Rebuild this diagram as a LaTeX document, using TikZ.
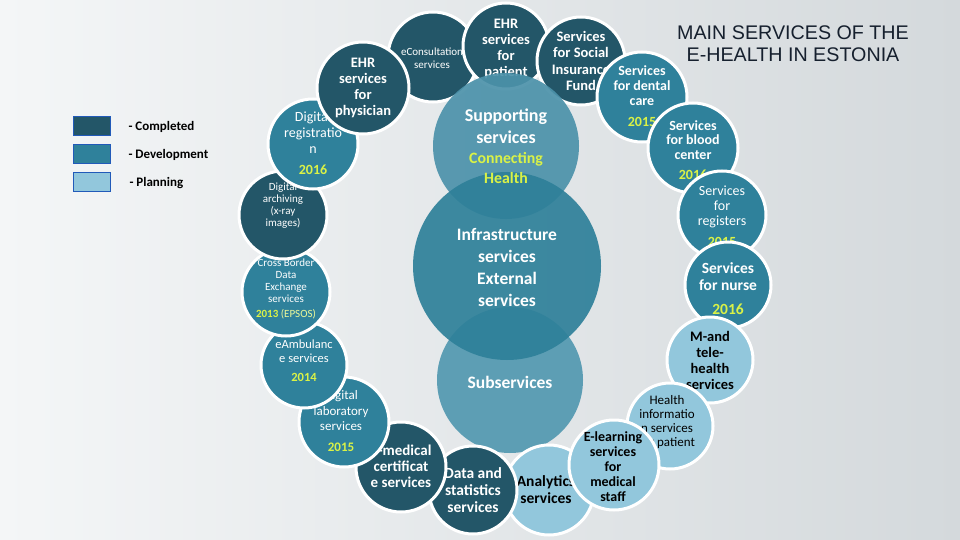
\documentclass[tikz,border=0pt]{standalone}
\usepackage{fontspec}
\setmainfont{Carlito}
\newfontfamily\titlefont{Liberation Sans}
\definecolor{cdone}{RGB}{35,86,104}
\definecolor{cdev}{RGB}{47,129,155}
\definecolor{cplan}{RGB}{146,199,220}
\definecolor{csupp}{RGB}{76,146,170}
\definecolor{cinfra}{RGB}{46,128,153}
\definecolor{csub}{RGB}{82,152,176}
\definecolor{cyear}{RGB}{218,242,70}
\definecolor{ctitle}{RGB}{22,32,46}
\newcommand{\yr}[1]{\textcolor{cyear}{\bfseries #1}}
\newcommand{\fs}[2]{\fontsize{#1}{#2}\selectfont}
\tikzset{ehealth/.style={x=1pt,y=-1pt},
  bub/.style={circle,draw=white,line width=3pt,inner sep=0pt},
  done/.style={bub,fill=cdone},
  dev/.style={bub,fill=cdev},
  plan/.style={bub,fill=cplan},
  hub/.style={circle,inner sep=0pt,fill opacity=0.92},
  wtxt/.style={text=white,align=center},
  ktxt/.style={text=black,align=center},
  legbox/.style={draw=cdev!70!blue,thin,minimum width=37pt,minimum height=19pt,inner sep=0pt},
  legtxt/.style={anchor=west,font=\fs{13}{15}\bfseries}}

\begin{document}
\begin{tikzpicture}[ehealth]
    \useasboundingbox (0,0) rectangle (960,540);
    \fill[left color={rgb,255:red,244;green,246;blue,247},right color={rgb,255:red,212;green,217;blue,220}]
      (0,0) rectangle (960,540);
    % legend
    \node[legbox,fill=cdone] (lgdone) at (91.5,125.5) {};
    \node[legbox,fill=cdev]  (lgdev)  at (91.5,154) {};
    \node[legbox,fill=cplan] (lgplan) at (91.5,182) {};
    \node[legtxt] (lgdonet) at (125,127) {- Completed};
    \node[legtxt] (lgdevt)  at (125,155) {- Development};
    \node[legtxt] (lgplant) at (126,183) {- Planning};
    % centre, lower hub
    \node[hub,fill=csub,minimum size=146pt] (subserv) at (510,380) {};
    \node[wtxt,font=\fs{17.5}{20}\bfseries] (subservt) at (510,382) {Subservices};
    % ring, lower left half
    \node[plan,minimum size=90pt] (analytics) at (549,490) {};
    \node[ktxt,font=\fs{15.5}{17}\bfseries] (analyticst) at (546,490) {Analytics\\services};
    \node[done,minimum size=88pt] (datastat) at (473,490) {};
    \node[wtxt,font=\fs{15.5}{17}\bfseries] (datastatt) at (473,490) {Data and\\statistics\\services};
    \node[done,minimum size=90pt] (medcert) at (401,467) {};
    \node[wtxt,font=\fs{15}{16}\bfseries] (medcertt) at (401,466) {e-medical\\certificat\\e services};
    \node[dev,minimum size=90pt] (lab) at (344,422) {};
    \node[wtxt,font=\fs{13}{15.5}] (labt) at (341,421) {Digital\\laboratory\\services\\[5pt]\yr{2015}};
    \node[dev,minimum size=86pt] (eamb) at (304,365) {};
    \node[wtxt,font=\fs{12.5}{13.5}] (eambt) at (304,361) {eAmbulanc\\e services\\[6pt]\yr{2014}};
    \node[dev,minimum size=88pt] (crossb) at (286,292) {};
    \node[wtxt,font=\fs{11}{12}] (crossbt) at (286,289) {Cross Border\\Data\\Exchange\\services\\[3pt]\yr{2013} \textcolor{cyear!55!white}{(EPSOS)}};
    \node[done,minimum size=88pt] (archive) at (283,215) {};
    \node[wtxt,font=\fs{11}{12}] (archivet) at (283,206) {Digital\\archiving\\(x-ray\\images)};
    \node[dev,minimum size=90pt] (registr) at (313,144) {};
    \node[wtxt,font=\fs{14}{16}] (registrt) at (313,143) {Digital\\registratio\\n\\[5pt]\yr{2016}};
    \node[done,minimum size=90pt] (econs) at (433,57) {};
    \node[wtxt,font=\fs{11}{12.5}] (econst) at (432,58) {eConsultation\\services};
    \node[done,minimum size=92pt] (physician) at (363,88) {};
    \node[wtxt,font=\fs{14.5}{16}\bfseries] (physiciant) at (363,88) {EHR\\services\\for\\physician};
    % ring, upper right half
    \node[done,minimum size=86pt] (patient) at (506,46) {};
    \node[wtxt,font=\fs{14.5}{16}\bfseries] (patientt) at (506,49) {EHR\\services\\for\\patient};
    \node[done,minimum size=88pt] (social) at (581,61) {};
    \node[wtxt,font=\fs{14.5}{16.5}\bfseries] (socialt) at (581,61) {Services\\for Social\\Insurance\\Fund};
    \node[hub,fill=csupp,minimum size=146pt] (support) at (506,146) {};
    \node[dev,minimum size=90pt] (dental) at (642,97) {};
    \node[wtxt,font=\fs{14}{15}\bfseries] (dentalt) at (642,96.5) {Services\\for dental\\care\\[6pt]\yr{2015}};
    \node[dev,minimum size=90pt] (blood) at (693,148) {};
    \node[wtxt,font=\fs{14}{14.5}\bfseries] (bloodt) at (693,150) {Services\\for blood\\center\\[6pt]\yr{2016}};
    \node[dev,minimum size=88pt] (registers) at (722,215) {};
    \node[wtxt,font=\fs{14}{15}] (registerst) at (722,216.5) {Services\\for\\registers\\[6pt]\yr{2015}};
    \node[dev,minimum size=86pt] (nurse) at (728,285) {};
    \node[wtxt,font=\fs{15.5}{17}\bfseries] (nurset) at (728,289) {Services\\for nurse\\[7pt]\yr{2016}};
    \node[plan,minimum size=86pt] (mhealth) at (710,360) {};
    \node[ktxt,font=\fs{14.5}{16}\bfseries] (mhealtht) at (710,360) {M-and\\tele-\\health\\services};
    \node[plan,minimum size=86pt] (healthinfo) at (670,426) {};
    \node[ktxt,font=\fs{13}{14}] (healthinfot) at (667,422) {Health\\informatio\\n services\\for patient};
    \node[plan,minimum size=90pt] (elearn) at (614,465) {};
    \node[ktxt,font=\fs{14}{15}\bfseries] (elearnt) at (613,467) {E-learning\\services\\for\\medical\\staff};
    % centre, main hub
    \node[hub,fill=cinfra,minimum size=188pt] (infra) at (507,266) {};
    \node[wtxt,font=\fs{17.5}{22}\bfseries] (infrat) at (507,267) {Infrastructure\\services\\External\\services};
    \node[wtxt,font=\fs{18}{22}\bfseries] (supportt) at (506,146.5)
      {Supporting\\services\\[-2pt]\textcolor{cyear}{\fs{15.8}{19}Connecting}\\[-2pt]\textcolor{cyear}{\fs{15.8}{19}Health}};
    % title
    \node[text=ctitle,align=center,font=\titlefont\fs{19.7}{22}] (title) at (793,44)
      {MAIN SERVICES OF THE\\E-HEALTH IN ESTONIA};
\end{tikzpicture}
\end{document}
